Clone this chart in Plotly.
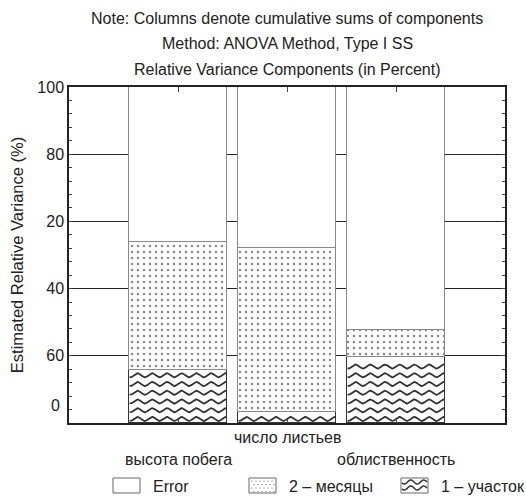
import numpy as np
import plotly.graph_objects as go

# ---- data (percent) ----
categories = ["высота побега", "число листьев", "облиственность"]
uchastok = [15.8, 3.2, 19.6]          # 1 – участок
mesyatsy = [38.0, 48.9, 8.2]          # 2 – месяцы
error = [100 - a - b for a, b in zip(uchastok, mesyatsy)]
ytick_vals = [100, 80, 60, 40, 20]
ytick_text = ["100", "80", "20", "40", "60"]

W, H = 526, 496
L, R, T, B = 69, 21, 87, 73
PW, PH = W - L - R, H - T - B
FONT = "Liberation Sans, Arial, sans-serif"

def px(x):
    return (x - L) / PW

def py(y):
    return (H - B - y) / PH

xs = list(range(len(categories)))
bw = 0.9

fig = go.Figure()
fig.add_bar(x=xs, y=uchastok, width=bw, name="1 – участок",
            marker=dict(color="white", line=dict(color="#333", width=1.2)))
fig.add_bar(x=xs, y=mesyatsy, width=bw, name="2 – месяцы",
            marker=dict(color="white", line=dict(color="#888", width=1.2),
                        pattern=dict(shape=".", size=6, solidity=0.13,
                                     fgcolor="#111", bgcolor="white")))
fig.add_bar(x=xs, y=error, width=bw, name="Error",
            marker=dict(color="white", line=dict(color="#888", width=1.2)))

# wavy fill for "1 – участок" segments
amp, period, spacing = 0.6, 0.135, 2.6
for c, top in zip(xs, uchastok):
    xx = np.linspace(c - bw / 2 + 0.006, c + bw / 2 - 0.006, 160)
    row = 1.2
    wx, wy = [], []
    while row + amp + 0.4 <= top:
        wx += list(xx) + [None]
        wy += list(row + amp * np.sin(2 * np.pi * (xx - c) / period)) + [None]
        row += spacing
    fig.add_scatter(x=wx, y=wy, mode="lines", line=dict(color="#333", width=1.8),
                    hoverinfo="skip", showlegend=False)

fig.update_layout(
    width=W, height=H, margin=dict(l=L, r=R, t=T, b=B),
    paper_bgcolor="white", plot_bgcolor="white",
    barmode="stack", showlegend=False, bargap=0,
    font=dict(family=FONT, size=16, color="#222"),
)
fig.update_xaxes(range=[-1, 3], tickvals=xs, ticks="inside", ticklen=5,
                 showticklabels=False, showgrid=False, zeroline=False,
                 showline=True, linecolor="#222", linewidth=1.5, mirror="allticks")
fig.update_yaxes(range=[0, 100], tickvals=ytick_vals, ticktext=ytick_text,
                 ticks="inside", ticklen=4, tickfont=dict(size=16),
                 showgrid=True, gridcolor="#222", gridwidth=1, zeroline=False,
                 showline=True, linecolor="#222", linewidth=1.5, mirror="allticks",
                 minor=dict(dtick=4, ticks="inside", ticklen=3, showgrid=False),
                 title=dict(text="Estimated Relative Variance (%)", font=dict(size=16.5),
                            standoff=10))

ann = []
# titles
for text, y in [("Note: Columns denote cumulative sums of components", 18),
                ("Method: ANOVA Method, Type I SS", 43),
                ("Relative Variance Components (in Percent)", 70)]:
    ann.append(dict(text=text, x=px(287), y=py(y), xref="paper", yref="paper",
                    showarrow=False, xanchor="center", yanchor="middle",
                    font=dict(size=16)))
# stray "0" label
ann.append(dict(text="0", x=px(62), y=py(405), xref="paper", yref="paper",
                showarrow=False, xanchor="right", yanchor="middle", font=dict(size=16)))
# category labels (staggered)
for c, name in zip(xs, categories):
    yy = 437 if c == 1 else 459
    ann.append(dict(text=name, x=c, y=py(yy), xref="x", yref="paper",
                    showarrow=False, xanchor="center", yanchor="middle",
                    font=dict(size=16)))

# custom legend
shapes = []
legend_items = [("Error", 113, None), ("2 – месяцы", 249, "dots"), ("1 – участок", 401, "wave")]
for text, x0, kind in legend_items:
    x1, y0, y1 = x0 + 27, 478, 493
    shapes.append(dict(type="rect", xref="paper", yref="paper",
                       x0=px(x0), x1=px(x1), y0=py(y1), y1=py(y0),
                       line=dict(color="#666", width=1), fillcolor="white"))
    if kind == "dots":
        for j, yy in enumerate(np.arange(y0 + 3, y1 - 1, 3.5)):
            off = 0 if j % 2 == 0 else 2
            for xx in np.arange(x0 + 3 + off, x1 - 1, 4):
                shapes.append(dict(type="circle", xref="paper", yref="paper",
                                   x0=px(xx - 0.6), x1=px(xx + 0.6),
                                   y0=py(yy + 0.6), y1=py(yy - 0.6),
                                   line=dict(width=0), fillcolor="#555"))
    if kind == "wave":
        for yy in [y0 + 4, y0 + 10]:
            t = np.linspace(x0 + 1, x1 - 1, 40)
            pts = [(px(a), py(yy + 2 * np.sin(2 * np.pi * (a - x0) / 13))) for a in t]
            path = "M" + " L".join(f"{a:.5f},{b:.5f}" for a, b in pts)
            shapes.append(dict(type="path", xref="paper", yref="paper", path=path,
                               line=dict(color="#333", width=1.5)))
    ann.append(dict(text=text, x=px(x1 + 11), y=py(486), xref="paper", yref="paper",
                    showarrow=False, xanchor="left", yanchor="middle",
                    font=dict(size=16)))

fig.update_layout(annotations=ann, shapes=shapes)
fig.write_html("out.html", config={"displayModeBar": False},
               post_script="document.body.style.margin='0';")
